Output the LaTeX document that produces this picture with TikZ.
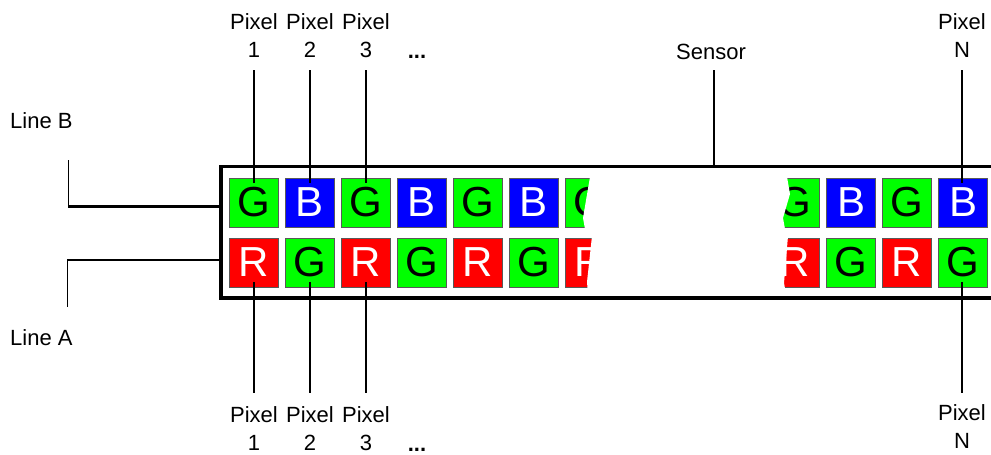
\documentclass[tikz,border=0pt]{standalone}
\usepackage{fontspec}
\setmainfont{Liberation Sans}
\usetikzlibrary{calc}
\definecolor{pxG}{RGB}{0,255,0}
\definecolor{pxB}{RGB}{0,0,255}
\definecolor{pxR}{RGB}{255,0,0}
\begin{document}
\begin{tikzpicture}[x=1pt,y=-1pt,
  sq/.style={draw=black!65, line width=0.9pt, minimum size=49pt, inner sep=0pt, font=\fontsize{42}{42}\selectfont},
  gsq/.style={sq, fill=pxG, text=black},
  bsq/.style={sq, fill=pxB, text=white},
  rsq/.style={sq, fill=pxR, text=white},
  lbl/.style={font=\fontsize{22}{28}\selectfont, align=center, inner sep=0pt},
  dots/.style={font=\fontsize{22}{28}\selectfont\bfseries, inner sep=0pt, anchor=base},
  pline/.style={line width=2.8pt},
  thinline/.style={line width=1pt},
  feed/.style={line width=2.6pt},
  frame/.style={draw, line width=3.6pt, inner sep=0pt, outer sep=0pt}
]
\clip (0,0) rectangle (991,455);
\fill[white] (0,0) rectangle (991,455);

% top row
\node[gsq] (t1) at (254,202.5) {G};
\node[bsq] (t2) at (310,202.5) {B};
\node[gsq] (t3) at (366,202.5) {G};
\node[bsq] (t4) at (422,202.5) {B};
\node[gsq] (t5) at (478,202.5) {G};
\node[bsq] (t6) at (534,202.5) {B};
\node[gsq] (t7) at (590,202.5) {G};
\node[gsq] (t8) at (795,202.5) {G};
\node[bsq] (t9) at (851,202.5) {B};
\node[gsq] (t10) at (907,202.5) {G};
\node[bsq] (t11) at (963,202.5) {B};
% bottom row
\node[rsq] (b1) at (254,262.5) {R};
\node[gsq] (b2) at (310,262.5) {G};
\node[rsq] (b3) at (366,262.5) {R};
\node[gsq] (b4) at (422,262.5) {G};
\node[rsq] (b5) at (478,262.5) {R};
\node[gsq] (b6) at (534,262.5) {G};
\node[rsq] (b7) at (590,262.5) {R};
\node[rsq] (b8) at (795,262.5) {R};
\node[gsq] (b9) at (851,262.5) {G};
\node[rsq] (b10) at (907,262.5) {R};
\node[gsq] (b11) at (963,262.5) {G};

% break of the sensor
\fill[white] (591,171) -- (583,218) -- (585,229) -- (592,236) -- (587,282) -- (588,294)
  -- (786,294) -- (784,283) -- (788,236) -- (785,229) -- (783,218) -- (790,194) -- (786,171) -- cycle;

% sensor frame (open to the right)
\node[frame, minimum width=800pt, minimum height=131.5pt, anchor=north west] (sensor) at (221,166.5) {};

% top labels
\node[lbl, anchor=south] (p1) at (254,58) {Pixel\\1};
\node[lbl, anchor=south] (p2) at (310,58) {Pixel\\2};
\node[lbl, anchor=south] (p3) at (366,58) {Pixel\\3};
\node[dots] (d1) at (417,58) {...};
\node[lbl, anchor=south] (pN) at (962,58) {Pixel\\N};
\node[lbl, anchor=base] (sl) at (711,59) {Sensor};

% bottom labels
\node[lbl, anchor=north] (q1) at (254,406) {Pixel\\1};
\node[lbl, anchor=north] (q2) at (310,406) {Pixel\\2};
\node[lbl, anchor=north] (q3) at (366,406) {Pixel\\3};
\node[dots] (d2) at (417,451) {...};
\node[lbl, anchor=north] (qN) at (962,404) {Pixel\\N};

% pixel lines
\draw[pline] ([yshift=-12pt]p1.south) -- ([yshift=-5pt]t1.north);
\draw[pline] ([yshift=-12pt]p2.south) -- ([yshift=-5pt]t2.north);
\draw[pline] ([yshift=-12pt]p3.south) -- ([yshift=-5pt]t3.north);
\draw[pline] ([yshift=-12pt]pN.south) -- ([yshift=-5pt]pN.south |- t11.north);
\draw[pline] ([yshift=5pt]b1.south) -- ([yshift=13pt]q1.north);
\draw[pline] ([yshift=5pt]b2.south) -- ([yshift=13pt]q2.north);
\draw[pline] ([yshift=5pt]b3.south) -- ([yshift=13pt]q3.north);
\draw[pline] ([yshift=5pt]qN.north |- b11.south) -- ([yshift=11pt]qN.north);

% sensor label line
\coordinate (sls) at (714,70);
\draw[pline] (sls) -- (sls |- sensor.north);

% line B / line A
\node[lbl, anchor=base west] (lb) at (10,128) {Line B};
\node[lbl, anchor=base west] (la) at (10,345) {Line A};
\coordinate (lbv) at (68,160);
\coordinate (lbc) at (68,206.7);
\draw[thinline] (lbv) -- (lbc);
\draw[feed] (lbc) -- (lbc -| sensor.west);
\coordinate (lav) at (67,306.7);
\coordinate (lac) at (67,260);
\draw[thinline] (lav) -- (lac);
\draw[feed] (lac) -- (lac -| sensor.west);
\end{tikzpicture}
\end{document}
